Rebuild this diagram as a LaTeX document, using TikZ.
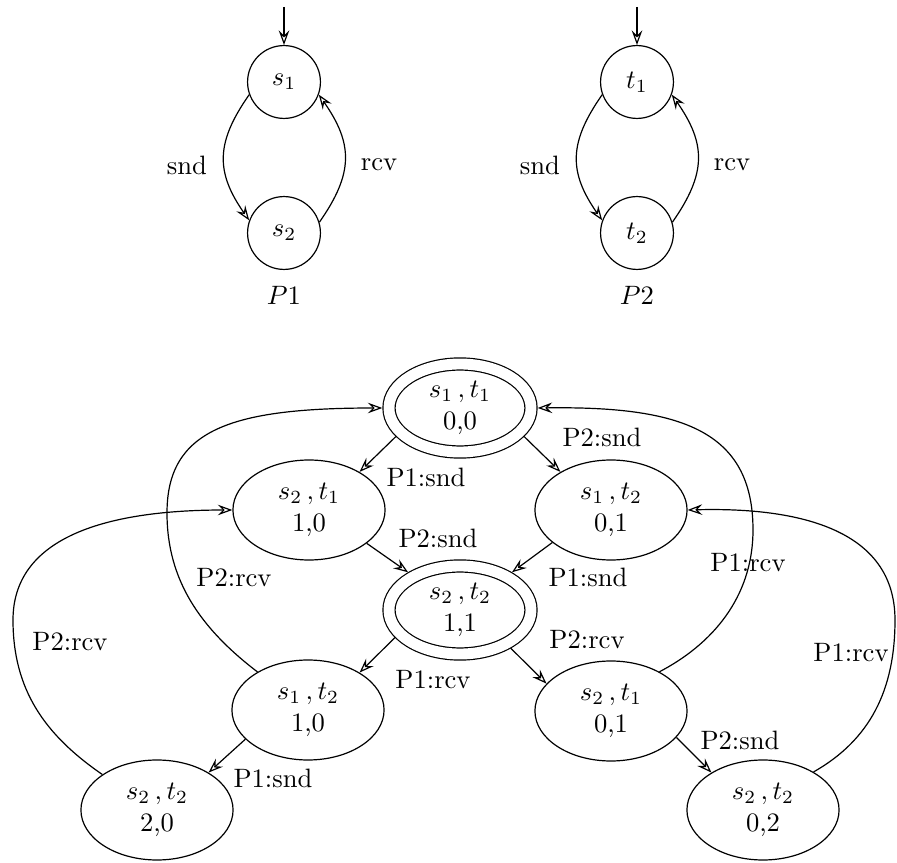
\documentclass[tikz,border=0pt]{standalone}
\usepackage{amsmath}
\usetikzlibrary{arrows.meta,shapes.geometric}

\begin{document}
\begin{tikzpicture}[x=0.376pt, y=0.376pt, line width=0.45pt,
	>={Stealth[open, length=5.5pt, width=4pt, inset=2pt]},
	loc/.style={circle, draw, minimum size=27.4pt, inner sep=0pt},
	st/.style={ellipse, draw, minimum width=57.2pt, minimum height=37.6pt, inner sep=0pt, align=center},
	acc/.style={st, double, double distance=4.1pt, minimum width=53.4pt, minimum height=33.1pt, outer sep=2.5pt}]
	\useasboundingbox (0,0) rectangle (897,-863);

	% the two processes
	\foreach \p/\x/\l in {1/284/s, 2/637/t} {
		\coordinate (in\p) at (\x,-7);
		\node[loc] (\l1) at (\x,-82) {$\l_1$};
		\node[loc] (\l2) at (\x,-233) {$\l_2$};
		\node (P\p) at (\x,-295) {$P\p$};
		\node (snd\p) at (\x-97,-165) {snd};
		\node (rcv\p) at (\x+95,-165) {rcv};
		\draw[->] (in\p) -- (\l1);
		\draw[->] (\l1.200) to[out=-125, in=125, looseness=1.2] (\l2.160);
		\draw[->] (\l2.17) to[out=55, in=-55, looseness=1.2] (\l1.-20);
	}

	% product automaton
	\node[acc] (q00) at (460,-408) {$s_1\,,t_1$\\0,0};
	\node[st] (q10) at (309,-510) {$s_2\,,t_1$\\1,0};
	\node[st] (q01) at (611,-510) {$s_1\,,t_2$\\0,1};
	\node[acc] (q11) at (460,-610) {$s_2\,,t_2$\\1,1};
	\node[st] (r10) at (308,-710) {$s_1\,,t_2$\\1,0};
	\node[st] (r01) at (611,-711) {$s_2\,,t_1$\\0,1};
	\node[st] (q20) at (157,-810) {$s_2\,,t_2$\\2,0};
	\node[st] (q02) at (763,-810) {$s_2\,,t_2$\\0,2};

	\draw[->] (q00.204) -- (q10.37);
	\draw[->] (q00.-24) -- (q01.143);
	\draw[->] (q10.-30) -- (q11.144);
	\draw[->] (q01.209) -- (q11.36);
	\draw[->] (q11.203) -- (r10.36);
	\draw[->] (q11.-37) -- (r01.157);
	\draw[->] (r10.205) -- (q20.36);
	\draw[->] (r01.-22) -- (q02.144);

	\draw[->] (r10.143) .. controls (200,-628) and (167,-580) .. (167,-513)
		.. controls (167,-430) and (230,-408) .. (q00.west);
	\draw[->] (q20.147) .. controls (45,-735) and (13,-690) .. (13,-620)
		.. controls (13,-540) and (100,-510) .. (q10.west);
	\draw[->] (r01.39) .. controls (720,-640) and (753,-590) .. (753,-530)
		.. controls (753,-430) and (680,-406) .. (q00.east);
	\draw[->] (q02.37) .. controls (870,-740) and (895,-690) .. (895,-620)
		.. controls (895,-530) and (800,-507) .. (q01.east);

	\foreach \n/\x/\y/\t in {l1/426/477/P1:snd, l2/602/437/P2:snd, l3/438/538/P2:snd,
		l4/588/577/P1:snd, l5/433/680/P1:rcv, l6/587/640/P2:rcv, l7/273/778/P1:snd,
		l8/740/740/P2:snd, l9/234/578/P2:rcv, l10/70/642/P2:rcv, l11/748/563/P1:rcv,
		l12/851/653/P1:rcv}
		\node (\n) at (\x,-\y) {\t};
\end{tikzpicture}
\end{document}
